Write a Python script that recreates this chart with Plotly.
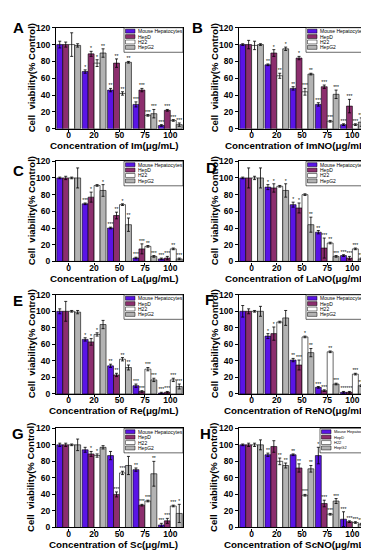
import plotly.graph_objects as go

W, H = 369, 550

concentrations = ["0", "20", "50", "75", "100"]
series_names = ["Mouse Hepatocytes", "HepD", "H22", "HepG2"]
series_colors = ["#5A14E6", "#8C2E6E", "#FFFFFF", "#B3B3B3"]

# ---- data: mean viability (% control) per series [MH, HepD, H22, HepG2] ----
im_mean = [[100, 68, 46, 29, 4], [100, 89, 78, 46, 22], [100, 78, 42, 16, 10], [99, 90, 79, 18, 5]]
im_err = [[4, 2, 2, 3, 1], [3, 3, 5, 2, 1], [14, 4, 2, 1, 1], [2, 5, 1, 5, 2]]
im_sig = [["", "*", "**", "***", "***"], ["", "*", "**", "***", "***"], ["", "*", "**", "***", "***"], ["", "**", "**", "***", "***"]]

imno_mean = [[100, 76, 48, 29, 5], [100, 90, 84, 50, 27], [99, 63, 44, 9, 5], [100, 95, 65, 41, 8]]
imno_err = [[1, 1, 2, 2, 1], [5, 4, 2, 2, 8], [5, 3, 4, 1, 1], [1, 2, 1, 5, 5]]
imno_sig = [["", "**", "**", "***", "***"], ["", "*", "*", "***", "***"], ["", "**", "***", "***", "***"], ["", "*", "**", "***", "***"]]

la_mean = [[100, 69, 40, 4, 3], [100, 77, 55, 15, 4], [100, 91, 68, 18, 15], [100, 85, 44, 6, 3]]
la_err = [[1, 1, 1, 1, 1], [2, 6, 4, 6, 2], [1, 1, 1, 1, 1], [12, 7, 8, 1, 1]]
la_sig = [["", "***", "***", "***", "***"], ["", "*", "**", "***", "***"], ["", "", "*", "**", "**"], ["", "*", "**", "***", "***"]]

lano_mean = [[100, 89, 68, 35, 7], [100, 88, 64, 16, 4], [100, 90, 80, 22, 15], [100, 85, 44, 6, 3]]
lano_err = [[1, 3, 3, 2, 1], [12, 5, 6, 12, 2], [2, 1, 1, 1, 1], [12, 8, 9, 1, 1]]
lano_sig = [["", "*", "*", "**", "***"], ["", "*", "*", "***", "***"], ["", "", "", "**", "***"], ["", "*", "**", "***", "***"]]

re_mean = [[100, 66, 34, 10, 1], [100, 63, 23, 3, 2], [100, 72, 42, 30, 17], [99, 84, 32, 17, 9]]
re_err = [[3, 2, 2, 2, 1], [12, 4, 2, 1, 1], [1, 2, 2, 2, 2], [2, 5, 3, 2, 3]]
re_sig = [["", "*", "**", "***", "***"], ["", "*", "**", "***", "***"], ["", "*", "**", "***", "***"], ["", "", "**", "***", "***"]]

reno_mean = [[100, 70, 41, 8, 2], [100, 73, 35, 4, 2], [100, 87, 69, 51, 24], [100, 92, 50, 12, 10]]
reno_err = [[7, 3, 2, 1, 1], [3, 8, 6, 1, 1], [1, 1, 1, 1, 1], [6, 9, 5, 1, 1]]
reno_sig = [["", "*", "**", "***", "***"], ["", "*", "***", "***", "***"], ["", "", "*", "**", "***"], ["", "", "**", "***", "***"]]

sc_mean = [[100, 94, 87, 70, 3], [100, 89, 40, 27, 8], [100, 87, 66, 32, 26], [100, 97, 75, 65, 17]]
sc_err = [[2, 3, 5, 2, 2], [2, 3, 3, 1, 3], [1, 2, 2, 1, 1], [7, 2, 11, 15, 11]]
sc_sig = [["", "", "", "**", "***"], ["", "*", "***", "***", "***"], ["", "*", "***", "***", "***"], ["", "", "*", "**", "*"]]

scno_mean = [[100, 88, 88, 87, 10], [100, 98, 72, 29, 7], [100, 80, 39, 16, 6], [100, 75, 71, 32, 4]]
scno_err = [[1, 2, 1, 10, 9], [2, 7, 5, 4, 1], [2, 4, 1, 1, 1], [6, 3, 4, 3, 1]]
scno_sig = [["", "**", "**", "*", "***"], ["", "", "**", "***", "***"], ["", "**", "***", "***", "***"], ["", "**", "**", "***", "***"]]

panel_letters = ["A", "B", "C", "D", "E", "F", "G", "H"]
compounds = ["Im", "ImNO", "La", "LaNO", "Re", "ReNO", "Sc", "ScNO"]

panels = [
    (im_mean, im_err, im_sig), (imno_mean, imno_err, imno_sig),
    (la_mean, la_err, la_sig), (lano_mean, lano_err, lano_sig),
    (re_mean, re_err, re_sig), (reno_mean, reno_err, reno_sig),
    (sc_mean, sc_err, sc_sig), (scno_mean, scno_err, scno_sig),
]

# ---- layout geometry (pixels) ----
col_x = [(48, 175), (231, 357)]
row_y = [(15, 118), (151, 253), (287, 388), (423, 524)]
letter_pos = [(10, 15), (189, 15), (10, 160), (203, 157), (10, 293), (201, 292), (10, 428), (197, 428)]

FONT = "Liberation Sans, Arial, sans-serif"

fig = go.Figure()
layout = dict(
    width=W, height=H, margin=dict(l=0, r=0, t=0, b=0),
    paper_bgcolor="white", plot_bgcolor="white",
    barmode="group", bargap=0.06, bargroupgap=0.0,
    showlegend=False, font=dict(family=FONT, color="black"),
)
annotations = []
shapes = []

for i, (mean, err, sig) in enumerate(panels):
    r, c = divmod(i, 2)
    sfx = "" if i == 0 else str(i + 1)
    xa, ya = "x" + sfx, "y" + sfx
    x0, x1 = col_x[c]
    y0, y1 = row_y[r]
    for s in range(4):
        fig.add_trace(go.Bar(
            x=concentrations, y=mean[s], name=series_names[s],
            offsetgroup=str(s), xaxis=xa, yaxis=ya,
            marker=dict(color=series_colors[s], line=dict(color="black", width=0.6)),
            error_y=dict(type="data", array=err[s], color="black", thickness=0.8, width=1.5),
            showlegend=False, hoverinfo="skip",
        ))
        tops = [m + e for m, e in zip(mean[s], err[s])]
        fig.add_trace(go.Bar(
            x=concentrations, y=[0.01] * len(tops), base=tops,
            offsetgroup=str(s), xaxis=xa, yaxis=ya,
            marker=dict(color="rgba(0,0,0,0)", line=dict(width=0)),
            text=sig[s], textposition="outside", textangle=0,
            constraintext="none", cliponaxis=False,
            textfont=dict(size=5, color="black", family=FONT),
            outsidetextfont=dict(size=5, color="black", family=FONT),
            showlegend=False, hoverinfo="skip",
        ))
    layout["xaxis" + sfx] = dict(
        domain=[x0 / W, x1 / W], anchor=ya, type="category",
        categoryorder="array", categoryarray=concentrations, range=[-0.5, 4.5],
        showline=True, mirror=True, linecolor="black", linewidth=1.2,
        ticks="outside", ticklen=2, tickwidth=1, tickcolor="black",
        ticklabelstandoff=-4,
        tickfont=dict(size=8.5, weight="bold", family=FONT), showgrid=False, zeroline=False,
    )
    layout["yaxis" + sfx] = dict(
        domain=[1 - y1 / H, 1 - y0 / H], anchor=xa, range=[0, 120],
        tickmode="linear", tick0=0, dtick=20,
        showline=True, mirror=True, linecolor="black", linewidth=1.2,
        ticks="outside", ticklen=3, tickwidth=1, tickcolor="black",
        tickfont=dict(size=8.5, weight="bold", family=FONT), showgrid=False, zeroline=False,
    )
    # axis titles
    annotations.append(dict(
        xref="paper", yref="paper", x=(x0 - 25) / W, y=1 - (y0 + y1) / 2 / H,
        text="Cell  viability(% Control)", textangle=-90, showarrow=False,
        font=dict(size=9.5, weight="bold", family=FONT), xanchor="center", yanchor="middle",
    ))
    annotations.append(dict(
        xref="paper", yref="paper", x=((x0 + x1) / 2 - 6) / W, y=1 - (y1 + 17) / H,
        text=f"Concentration of {compounds[i]}(μg/mL)", showarrow=False,
        font=dict(size=9.8, weight="bold", family=FONT), xanchor="center", yanchor="middle",
    ))
    lx, ly = letter_pos[i]
    annotations.append(dict(
        xref="paper", yref="paper", x=lx / W, y=1 - ly / H, text=panel_letters[i],
        showarrow=False, font=dict(size=15, weight="bold", family=FONT),
        xanchor="center", yanchor="middle",
    ))
    # in-panel legend
    pw, ph = x1 - x0, y1 - y0
    leg_w = 45 if i == 7 else 59
    fsz = 4.0 if i == 7 else 5.0
    bx0 = 1 - leg_w / pw
    shapes.append(dict(type="rect", xref=xa + " domain", yref=ya + " domain",
                       x0=bx0, x1=1, y0=1 - 25 / ph, y1=1,
                       line=dict(color="black", width=0.6), fillcolor="white", layer="above"))
    for s in range(4):
        cy = 1 - (3.5 + 5.5 * s) / ph
        shapes.append(dict(type="rect", xref=xa + " domain", yref=ya + " domain",
                           x0=bx0 + 1.5 / pw, x1=bx0 + 11 / pw,
                           y0=cy - 2 / ph, y1=cy + 2 / ph,
                           fillcolor=series_colors[s], line=dict(color="black", width=0.5), layer="above"))
        annotations.append(dict(
            xref=xa + " domain", yref=ya + " domain", x=bx0 + 12.5 / pw, y=cy,
            text=series_names[s], showarrow=False, xanchor="left", yanchor="middle",
            font=dict(size=fsz, family=FONT), borderpad=0,
        ))

layout["annotations"] = annotations
layout["shapes"] = shapes
fig.update_layout(**layout)
fig.write_html("out.html")
